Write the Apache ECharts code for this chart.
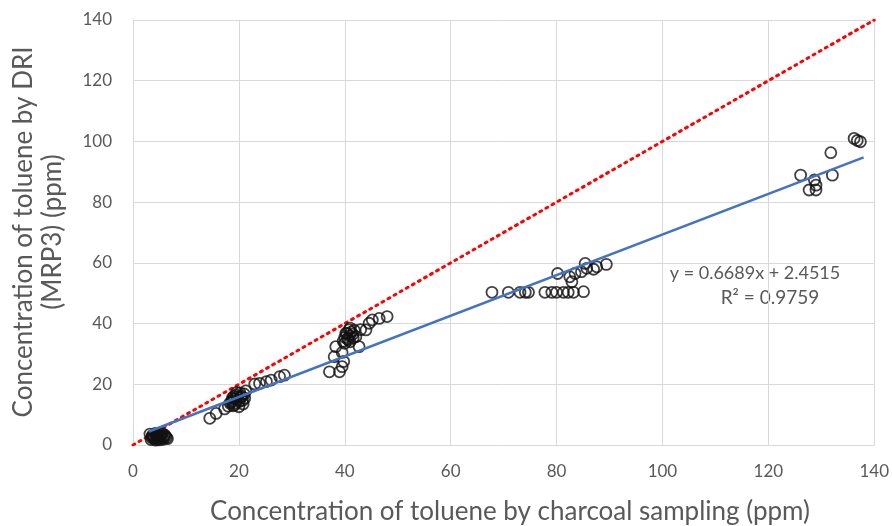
<!DOCTYPE html>
<html>
<head>
<meta charset="utf-8">
<script src="https://cdn.jsdelivr.net/npm/echarts@6/dist/echarts.min.js"></script>
<style>html,body{margin:0;padding:0;background:#fff;}#c{width:892px;height:526px;}</style>
</head>
<body>
<div id="c"></div>
<script>
var xTicks = [0, 20, 40, 60, 80, 100, 120, 140];
var yTicks = [0, 20, 40, 60, 80, 100, 120, 140];
var charcoalX = [
  3.5, 3.8, 4.0, 4.2, 4.5, 4.8, 5.0, 5.2, 5.5, 5.8, 6.0, 6.3, 3.2, 4.6,
  3.4, 3.9, 4.3, 4.7, 5.1, 5.4, 5.7, 6.1, 6.5, 3.6, 4.4, 5.3,
  14.5, 15.7, 17.3, 18.0, 18.5, 18.8, 19.2, 19.5, 19.8, 20.2, 20.5, 20.8, 21.0, 21.3, 19.0, 20.0,
  18.3, 18.7, 19.1, 19.4, 19.7, 20.1, 20.4, 20.7, 21.1, 19.6, 18.9,
  23.0, 23.9, 25.2, 26.1, 27.7, 28.6,
  37.1, 39.0, 39.5, 38.0, 38.3, 40.2, 40.8, 42.1, 42.7, 44.0, 44.6, 46.5, 48.0, 45.2, 39.5, 40.0,
  40.5, 41.0, 41.5, 39.8, 41.0, 43.0,
  40.0, 40.4, 40.7, 41.2, 41.6, 40.9, 39.7, 41.8,
  67.8, 70.9, 73.1, 74.1, 74.7, 77.8, 79.1, 80.0, 81.3, 82.2, 83.2, 85.1, 80.2, 82.5, 82.9, 83.5,
  84.7, 85.4, 85.7, 87.0, 87.6, 89.4,
  126.1, 127.7, 129.0, 128.7, 129.0, 131.8, 132.1, 136.2, 137.4, 136.8
];
var driY = [
  2.5, 3.2, 2.0, 3.8, 2.8, 3.5, 2.2, 3.0, 3.8, 2.6, 3.3, 2.4, 3.6, 1.8,
  1.8, 2.6, 1.6, 2.4, 1.7, 2.5, 1.9, 2.9, 2.1, 3.0, 3.4, 3.6,
  8.8, 10.4, 11.9, 12.8, 14.0, 15.5, 13.2, 16.5, 14.8, 17.2, 15.8, 13.5, 16.8, 17.8, 16.0, 12.6,
  13.8, 14.6, 15.2, 13.9, 15.9, 14.3, 16.2, 14.7, 15.4, 17.3, 12.9,
  20.1, 20.3, 20.9, 21.4, 22.5, 23.0,
  24.1, 24.1, 25.8, 29.1, 32.4, 36.8, 37.9, 35.7, 32.4, 37.9, 40.1, 41.7, 42.3, 41.2, 30.5, 33.5,
  35.0, 34.0, 36.5, 27.5, 38.5, 38.0,
  35.5, 36.8, 34.6, 37.2, 35.3, 36.0, 34.2, 37.8,
  50.3, 50.3, 50.3, 50.3, 50.3, 50.3, 50.3, 50.3, 50.3, 50.3, 50.3, 50.5, 56.5, 55.4, 53.8, 56.5,
  57.1, 59.8, 58.2, 57.9, 58.7, 59.5,
  88.9, 84.0, 84.0, 87.3, 85.6, 96.3, 88.9, 101.0, 99.9, 100.3
];
var trendX = [3.0, 138.0];
var trendY = [4.46, 94.76];
var identityX = [0, 140];
var identityY = [0, 140];
var equationText = 'y = 0.6689x + 2.4515';
var r2Text = 'R\u00B2 = 0.9759';
var xTitle = 'Concentration of toluene by charcoal sampling (ppm)';
var yTitle = 'Concentration of toluene by DRI\n(MRP3) (ppm)';

var FONT = 'Lato';
var GRAY = '#595959';
function pairs(xs, ys) { return xs.map(function (v, i) { return [v, ys[i]]; }); }

var chart = echarts.init(document.getElementById('c'), null, { renderer: 'canvas' });
chart.setOption({
  animation: false,
  backgroundColor: '#fff',
  grid: { left: 133, right: 15, top: 20, bottom: 81, containLabel: false },
  xAxis: {
    type: 'value', min: xTicks[0], max: xTicks[xTicks.length - 1], interval: 20,
    axisLine: { show: true, lineStyle: { color: '#d9d9d9', width: 1 } },
    axisTick: { show: false },
    axisLabel: { color: GRAY, fontFamily: FONT, fontSize: 17, margin: 18 },
    splitLine: { show: true, lineStyle: { color: '#d9d9d9', width: 1 } }
  },
  yAxis: {
    type: 'value', min: yTicks[0], max: yTicks[yTicks.length - 1], interval: 20,
    axisLine: { show: true, lineStyle: { color: '#d9d9d9', width: 1 } },
    axisTick: { show: false },
    axisLabel: { color: GRAY, fontFamily: FONT, fontSize: 17, margin: 21 },
    splitLine: { show: true, lineStyle: { color: '#d9d9d9', width: 1 } }
  },
  series: [
    {
      type: 'line', data: pairs(identityX, identityY), symbol: 'none', z: 3,
      lineStyle: { color: '#ff0000', width: 3, type: [2, 5], cap: 'round' }
    },
    {
      type: 'scatter', data: pairs(charcoalX, driY), symbol: 'circle', symbolSize: 11, z: 4,
      itemStyle: { color: 'rgba(255,255,255,0)', borderColor: '#111', borderWidth: 1.8 }
    },
    {
      type: 'line', data: pairs(trendX, trendY), symbol: 'none', z: 5,
      lineStyle: { color: '#4472c4', width: 2.5 }
    }
  ],
  graphic: [
    { type: 'text', x: 510, y: 512, style: { text: xTitle, fill: GRAY, font: '26px ' + FONT, textAlign: 'center', textVerticalAlign: 'middle' } },
    { type: 'text', x: 38, y: 232, rotation: Math.PI / 2, style: { text: yTitle, fill: GRAY, font: '26px ' + FONT, textAlign: 'center', textVerticalAlign: 'middle', lineHeight: 29 } },
    { type: 'text', x: 755, y: 273, style: { text: equationText, fill: GRAY, font: '18px ' + FONT, textAlign: 'center', textVerticalAlign: 'middle' } },
    { type: 'text', x: 770, y: 298, style: { text: r2Text, fill: GRAY, font: '19px ' + FONT, textAlign: 'center', textVerticalAlign: 'middle' } }
  ]
});
</script>
</body>
</html>
